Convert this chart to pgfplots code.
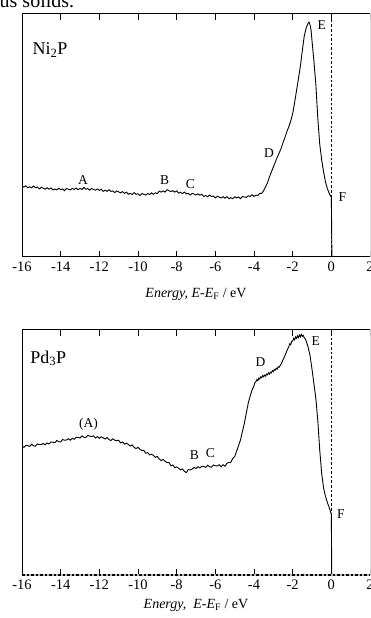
\documentclass[border=0pt]{standalone}
\usepackage{fontspec}
\setmainfont{Liberation Serif}
\usepackage{pgfplots}
\pgfplotsset{compat=1.18}

% Valence-band spectrum of Ni2P (intensity in arbitrary units, 0--100)
\pgfplotstableread{
x y
-16.0 29.3
-15.9 28.8
-15.8 29.3
-15.7 28.5
-15.6 28.9
-15.5 28.5
-15.4 29.2
-15.3 28.5
-15.2 28.8
-15.1 28.0
-15.0 28.7
-14.9 28.3
-14.8 27.9
-14.7 28.5
-14.6 27.9
-14.5 28.4
-14.4 27.6
-14.3 28.0
-14.2 27.6
-14.1 28.3
-14.0 27.7
-13.9 28.0
-13.8 27.3
-13.7 28.2
-13.6 27.9
-13.5 27.6
-13.4 28.2
-13.3 27.8
-13.2 28.4
-13.1 27.7
-13.0 28.2
-12.9 27.8
-12.8 28.6
-12.7 27.9
-12.6 28.2
-12.5 27.5
-12.4 28.2
-12.3 27.8
-12.2 27.5
-12.1 28.0
-12.0 27.4
-11.9 27.9
-11.8 27.0
-11.7 27.5
-11.6 27.0
-11.5 27.7
-11.4 27.0
-11.3 27.2
-11.2 26.5
-11.1 27.2
-11.0 26.8
-10.9 26.4
-10.8 26.9
-10.7 26.2
-10.6 26.7
-10.5 25.8
-10.4 26.2
-10.3 25.7
-10.2 26.5
-10.1 25.8
-10.0 26.0
-9.9 25.3
-9.8 26.1
-9.7 25.8
-9.6 25.5
-9.5 26.1
-9.4 25.7
-9.3 26.4
-9.2 25.8
-9.1 26.4
-9.0 26.1
-8.9 27.1
-8.8 26.7
-8.7 27.2
-8.6 26.7
-8.5 27.7
-8.4 27.3
-8.3 26.9
-8.2 27.3
-8.1 26.7
-8.0 27.2
-7.9 26.3
-7.8 26.6
-7.7 26.1
-7.6 26.7
-7.5 26.0
-7.4 26.2
-7.3 25.5
-7.2 26.2
-7.1 25.9
-7.0 25.5
-6.9 26.0
-6.8 25.4
-6.7 25.8
-6.6 24.9
-6.5 25.3
-6.4 24.8
-6.3 25.5
-6.2 24.9
-6.1 25.1
-6.0 24.3
-5.9 25.0
-5.8 24.6
-5.7 24.3
-5.6 24.8
-5.5 24.2
-5.4 24.8
-5.3 24.0
-5.2 24.4
-5.1 24.0
-5.0 24.8
-4.9 24.3
-4.8 24.7
-4.7 24.0
-4.6 24.9
-4.5 24.7
-4.4 24.5
-4.3 25.2
-4.2 24.9
-4.1 25.6
-4.0 24.9
-3.9 25.5
-3.8 25.3
-3.7 26.2
-3.6 26.2
-3.5 27.3
-3.4 28.9
-3.3 30.6
-3.2 33.0
-3.1 35.0
-3.0 37.0
-2.9 39.0
-2.8 41.0
-2.7 42.8
-2.6 44.6
-2.5 47.0
-2.4 49.2
-2.3 51.6
-2.2 53.6
-2.1 56.0
-2.0 59.0
-1.9 63.5
-1.8 68.5
-1.7 73.5
-1.6 78.5
-1.5 85.0
-1.4 91.0
-1.3 94.3
-1.2 96.2
-1.15 96.6
-1.1 95.5
-1.05 93.4
-1.0 89.0
-0.9 80.5
-0.8 71.0
-0.7 57.0
-0.6 46.5
-0.5 40.0
-0.4 35.0
-0.3 30.8
-0.2 28.0
-0.1 26.0
-0.03 25.0
0.0 24.8
0.03 0.0
}\niptable

% Valence-band spectrum of Pd3P (intensity in arbitrary units, 0--100)
\pgfplotstableread{
x y
-16.0 52.6
-15.9 52.1
-15.8 52.9
-15.7 52.8
-15.6 52.5
-15.5 53.4
-15.4 52.7
-15.3 52.6
-15.2 53.5
-15.1 53.2
-15.0 53.2
-14.9 53.7
-14.8 53.1
-14.7 53.9
-14.6 53.5
-14.5 54.3
-14.4 54.2
-14.3 54.0
-14.2 54.9
-14.1 54.4
-14.0 54.3
-13.9 55.3
-13.8 55.0
-13.7 55.1
-13.6 55.6
-13.5 55.0
-13.4 55.8
-13.3 55.4
-13.2 56.2
-13.1 56.2
-13.0 55.9
-12.9 56.8
-12.8 56.2
-12.7 56.1
-12.6 57.0
-12.5 56.7
-12.4 56.5
-12.3 56.8
-12.2 55.9
-12.1 56.5
-12.0 55.8
-11.9 56.4
-11.8 56.0
-11.7 55.5
-11.6 56.1
-11.5 55.3
-11.4 54.9
-11.3 55.6
-11.2 55.0
-11.1 54.8
-11.0 55.0
-10.9 53.9
-10.8 54.3
-10.7 53.4
-10.6 53.8
-10.5 53.3
-10.4 52.6
-10.3 53.1
-10.2 52.1
-10.1 51.6
-10.0 52.1
-9.9 51.3
-9.8 50.8
-9.7 50.9
-9.6 49.7
-9.5 50.0
-9.4 49.0
-9.3 49.3
-9.2 48.8
-9.1 48.0
-9.0 48.4
-8.9 47.3
-8.8 46.7
-8.7 47.2
-8.6 46.4
-8.5 45.9
-8.4 45.9
-8.3 44.6
-8.2 44.9
-8.1 43.8
-8.0 44.1
-7.9 43.6
-7.8 42.9
-7.7 43.3
-7.6 42.3
-7.5 41.8
-7.4 43.0
-7.3 42.9
-7.2 43.2
-7.1 43.9
-7.0 43.5
-6.9 44.2
-6.8 43.7
-6.7 44.4
-6.6 44.3
-6.5 43.9
-6.4 44.8
-6.3 44.2
-6.2 44.0
-6.1 44.9
-6.0 44.6
-5.9 44.5
-5.8 45.0
-5.7 44.2
-5.6 45.0
-5.5 44.4
-5.4 45.6
-5.3 45.9
-5.2 46.0
-5.1 47.6
-5.0 48.3
-4.9 50.5
-4.8 52.8
-4.7 55.1
-4.6 58.5
-4.5 61.9
-4.4 66.0
-4.3 70.1
-4.2 73.0
-4.1 75.5
-4.0 77.3
-3.95 78.6
-3.9 78.9
-3.85 79.8
-3.8 79.3
-3.75 80.4
-3.7 80.0
-3.65 80.9
-3.6 80.5
-3.55 81.4
-3.5 80.9
-3.45 81.6
-3.4 81.2
-3.35 82.0
-3.3 81.7
-3.25 82.5
-3.2 82.0
-3.15 82.8
-3.1 82.5
-3.05 83.4
-3.0 83.0
-2.95 83.9
-2.9 83.6
-2.85 84.4
-2.8 84.0
-2.75 85.0
-2.7 84.8
-2.6 86.0
-2.5 87.8
-2.4 89.5
-2.3 91.5
-2.2 93.2
-2.15 94.4
-2.1 94.0
-2.05 95.4
-2.0 95.5
-1.95 96.6
-1.9 96.0
-1.85 97.2
-1.8 96.6
-1.75 97.6
-1.7 96.9
-1.65 98.0
-1.6 97.2
-1.55 98.2
-1.5 97.4
-1.45 97.8
-1.4 96.8
-1.35 96.4
-1.3 95.5
-1.2 93.0
-1.1 89.5
-1.0 84.0
-0.9 78.0
-0.8 72.0
-0.7 63.0
-0.6 51.0
-0.5 41.5
-0.4 35.5
-0.3 32.0
-0.2 29.5
-0.1 27.3
0.0 24.8
0.02 0.0
}\pdpptable

\tikzset{
  spec/.style={black, line width=0.9pt},
  fermi/.style={black, line width=0.8pt, dash pattern=on 2.6pt off 2pt},
  peak/.style={font=\fontsize{13.5}{15}\selectfont, inner sep=0pt},
  sample/.style={font=\fontsize{18}{20}\selectfont, inner sep=0pt},
}

\pgfplotsset{
  vbspec/.style={
    scale only axis,
    width=348pt,
    xmin=-16, xmax=2, ymin=0, ymax=100,
    xtick={-16,-14,...,2},
    ytick=\empty,
    tick align=inside,
    major tick length=6pt,
    axis line style={line width=1pt, black},
    every tick/.style={line width=0.9pt, black},
    /pgf/number format/assume math mode=true,
    xticklabel style={font=\fontsize{14.5}{16}\selectfont, yshift=-1pt},
    every axis x label/.style={at={(axis description cs:0.5,0)}, anchor=center,
      font=\fontsize{14}{16}\selectfont},
  },
}

\begin{document}
\begin{tikzpicture}
\begin{scope}
\clip (0pt,0pt) rectangle (370pt,618pt);

\node[anchor=base west, inner sep=0pt, font=\fontsize{20}{22}\selectfont] at (-0.5pt,610.7pt) {us solids.};

% Ni2P
\begin{axis}[vbspec, name=top, at={(22pt,361pt)}, anchor=south west, height=243pt,
    xlabel={\textit{Energy, E}-\textit{E}\textsubscript{F} / eV},
    xlabel style={yshift=-37pt}]
  \addplot[spec] table {\niptable};
  \draw[fermi] (axis cs:0,0) -- (axis cs:0,100);
  \node[sample] at (axis cs:-14.55,85.2) {Ni\textsubscript{2}P};
  \node[peak] at (axis cs:-12.84,31.7) {A};
  \node[peak] at (axis cs:-8.62,31.7) {B};
  \node[peak] at (axis cs:-7.29,30.0) {C};
  \node[peak] at (axis cs:-3.23,42.7) {D};
  \node[peak] at (axis cs:-0.50,95.5) {E};
  \node[peak] at (axis cs:0.57,24.8) {F};
\end{axis}

% Pd3P
\begin{axis}[vbspec, name=bottom, at={(22pt,43pt)}, anchor=south west, height=245pt,
    xlabel={\textit{Energy,}\ \ \textit{E}-\textit{E}\textsubscript{F} / eV},
    xlabel style={yshift=-30pt}]
  \addplot[spec] table {\pdpptable};
  \draw[fermi] (axis cs:0,0) -- (axis cs:0,100);
  \node[sample] at (axis cs:-14.64,88.4) {Pd\textsubscript{3}P};
  \node[peak] at (axis cs:-12.56,61.5) {(A)};
  \node[peak] at (axis cs:-7.08,49.0) {B};
  \node[peak] at (axis cs:-6.25,49.7) {C};
  \node[peak] at (axis cs:-3.66,86.8) {D};
  \node[peak] at (axis cs:-0.81,95.5) {E};
  \node[peak] at (axis cs:0.49,24.9) {F};
\end{axis}

% dashed baseline along the lower frame of the Pd3P panel
\draw[gray!55, line width=1.1pt] (bottom.south west) -- (bottom.south east);
\draw[black, line width=1.1pt, dash pattern=on 2.5pt off 2pt] (bottom.south west) -- (bottom.south east);
\end{scope}
\pgfresetboundingbox
\useasboundingbox (0pt,0pt) rectangle (370pt,618pt);
\end{tikzpicture}
\end{document}
